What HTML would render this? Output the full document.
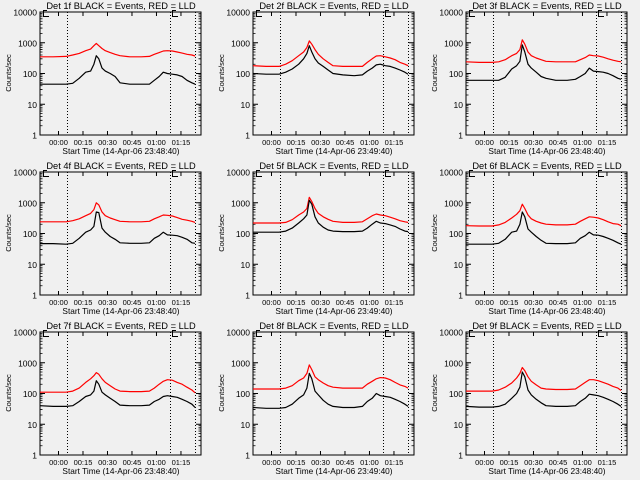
<!DOCTYPE html>
<html><head><meta charset="utf-8">
<style>
html,body{margin:0;padding:0;background:#f0f0f0;}
svg{display:block;font-family:"Liberation Sans",sans-serif;}
</style></head>
<body>
<svg id="chart" width="640" height="480" viewBox="0 0 640 480" xmlns="http://www.w3.org/2000/svg">
<rect x="0" y="0" width="640" height="480" fill="#f0f0f0"/>
</svg>
<script>
// minutes since axis start (23:48:40)
const times = [0,8,16,20,24,28,31,33,34.5,36,38,40,43,46,49,55,62,67,70,73,75.5,78,81,84,87,90,93,95];
const detNames = ["1f","2f","3f","4f","5f","6f","7f","8f","9f"];
const startLabels = ["23:48:40","23:49:40","23:48:40","23:48:40","23:49:40","23:48:40","23:48:40","23:49:40","23:48:40"];
const yTickValues = [1,10,100,1000,10000];
const yTickLabels = ["1","10","100","1000","10000"];
const xTickMinutes = [11.33,26.33,41.33,56.33,71.33,86.33];
const xTickLabels = ["00:00","00:15","00:30","00:45","01:00","01:15"];
const markerMinutes = [16.5,79.6,94.9];
const black1 = [45,45,45,48,70,110,120,200,380,300,150,120,100,80,50,45,45,45,60,80,110,100,95,90,80,60,50,45];
const red1 = [350,350,360,400,450,550,620,800,950,800,650,550,480,420,380,350,350,360,420,480,540,550,540,500,460,420,400,370];
const black2 = [100,95,95,110,140,200,300,450,800,500,300,220,170,130,100,90,85,90,120,150,190,200,180,170,150,130,110,95];
const red2 = [180,170,170,200,260,380,500,700,1150,900,600,420,300,230,180,170,170,170,230,300,370,380,350,320,280,230,200,180];
const black3 = [60,60,60,60,75,140,180,250,850,500,200,150,110,80,70,60,60,65,80,100,150,120,115,110,100,85,70,65];
const red3 = [240,230,230,240,280,380,450,600,1250,900,500,380,320,280,250,240,240,240,280,330,400,380,370,340,300,270,250,240];
const black4 = [47,47,45,48,70,110,130,170,500,480,150,110,80,65,50,48,48,50,70,85,110,90,88,85,75,65,50,48];
const red4 = [240,240,240,260,300,380,450,600,1000,850,500,380,320,280,250,240,240,250,300,350,400,390,370,330,290,270,250,230];
const black5 = [110,110,110,120,150,220,300,400,1200,900,350,220,160,130,120,115,115,120,150,200,250,220,210,190,170,140,120,115];
const red5 = [220,220,220,230,280,400,500,650,1500,1100,650,450,350,290,250,230,230,240,300,380,430,400,380,340,300,260,240,230];
const black6 = [45,45,45,48,65,110,120,200,500,350,140,110,80,60,48,47,47,50,70,85,110,90,88,80,70,60,50,45];
const red6 = [180,175,175,190,230,320,420,550,900,650,400,300,250,220,200,190,190,200,250,300,350,340,320,280,240,210,200,180];
const black7 = [40,38,38,40,55,80,90,120,260,200,110,90,70,55,42,40,40,42,55,65,80,85,80,75,65,55,45,35];
const red7 = [110,110,110,120,150,230,300,380,480,420,300,230,180,140,120,115,115,120,150,200,250,280,270,230,200,160,130,105];
const black8 = [35,33,33,35,45,70,90,150,450,300,120,90,60,45,38,35,35,38,55,70,100,85,80,75,65,55,45,38];
const red8 = [140,140,140,150,180,260,320,450,850,600,350,280,220,180,160,150,150,150,200,250,300,330,320,280,230,190,170,150];
const black9 = [38,36,36,38,45,70,100,160,500,350,130,90,65,50,40,38,38,40,55,70,95,90,85,75,65,55,45,38];
const red9 = [120,120,120,130,160,220,320,450,700,550,350,250,190,150,140,135,135,140,180,230,280,280,260,230,200,170,150,125];
const blackSeries = [black1,black2,black3,black4,black5,black6,black7,black8,black9];
const redSeries = [red1,red2,red3,red4,red5,red6,red7,red8,red9];

const NS = "http://www.w3.org/2000/svg";
const svg = document.getElementById("chart");
const X0 = 40, X1 = 201, Y0 = 12, Y1 = 135, TMAX = 98.6;
function mk(tag, parent, attrs){
  const e = document.createElementNS(NS, tag);
  for (const k in attrs) e.setAttribute(k, attrs[k]);
  parent.appendChild(e);
  return e;
}
function xScale(t){ return X0 + (X1 - X0) * t / TMAX; }
function yScale(v){ return Y1 - (Y1 - Y0) * Math.log10(v) / 4; }

for (let p = 0; p < 9; p++) {
  const col = p % 3, row = Math.floor(p / 3);
  const g = mk("g", svg, {transform: `translate(${col*213},${row*160})`});
  
  

  const title = mk("text", g, {x: 121, y: 9, "text-anchor": "middle", "font-size": 9.3, fill: "#000"});
  title.textContent = `Det ${detNames[p]} BLACK = Events, RED = LLD`;
  
  

  const box = mk("rect", g, {x: X0, y: Y0, width: X1-X0, height: Y1-Y0, fill: "none", stroke: "#000", "stroke-width": 1});
  
  

  for (let i = 0; i < yTickValues.length; i++) {
    const y = yScale(yTickValues[i]);
    const tk = mk("path", g, {d: `M${X0} ${y}h5M${X1} ${y}h-5`, stroke: "#000", "stroke-width": 1});
    
    
    const lb = mk("text", g, {x: 37, y: y + 3.5, "text-anchor": "end", "font-size": 8.5, fill: "#000"});
    lb.textContent = yTickLabels[i];
    
    
    if (i < yTickValues.length - 1) {
      let d = "";
      for (let m = 2; m <= 9; m++) {
        const ym = yScale(yTickValues[i] * m);
        d += `M${X0} ${ym}h2.5M${X1} ${ym}h-2.5`;
      }
      const mt = mk("path", g, {d: d, stroke: "#000", "stroke-width": 0.8});
      
      
    }
  }
  for (let i = 0; i < xTickMinutes.length; i++) {
    const x = xScale(xTickMinutes[i]);
    const tk = mk("path", g, {d: `M${x} ${Y1}v-4M${x} ${Y0}v4`, stroke: "#000", "stroke-width": 1});
    
    
    const lb = mk("text", g, {x: x, y: 145, "text-anchor": "middle", "font-size": 7.5, fill: "#000"});
    lb.textContent = xTickLabels[i];
    
    
  }
  const xt = mk("text", g, {x: 121, y: 154, "text-anchor": "middle", "font-size": 8.3, fill: "#000"});
  xt.textContent = `Start Time (14-Apr-06 ${startLabels[p]})`;
  
  
  const yt = mk("text", g, {x: 0, y: 0, "text-anchor": "middle", "font-size": 7.5, fill: "#000", transform: `translate(11,73) rotate(-90)`});
  yt.textContent = "Counts/sec";
  
  

  for (let i = 0; i < markerMinutes.length; i++) {
    const x = Math.round(xScale(markerMinutes[i])) + 0.5;
    const ml = mk("line", g, {x1: x, x2: x, y1: Y0, y2: Y1, stroke: "#000", "stroke-width": 1, "stroke-dasharray": "1 2"});
    
    
  }
  const bx = [43, 172];
  for (let i = 0; i < bx.length; i++) {
    const br = mk("path", g, {d: `M${bx[i]+4} 10.5H${bx[i]}.5V16.5H${bx[i]+6}`, fill: "none", stroke: "#000", "stroke-width": 1});
    
    
  }

  const mkLine = (vals, color, name) => {
    let d = "";
    for (let i = 0; i < times.length; i++) {
      const x = xScale(times[i]), y = yScale(vals[i]);
      d += (i ? "L" : "M") + x.toFixed(1) + " " + y.toFixed(1);
    }
    const pl = mk("path", g, {d: d, fill: "none", stroke: color, "stroke-width": 1.2, "stroke-linejoin": "round"});
    
    
  };
  mkLine(redSeries[p], "#ff0000", "lld-rate-line");
  mkLine(blackSeries[p], "#000000", "events-rate-line");
}
</script>
</body></html>
